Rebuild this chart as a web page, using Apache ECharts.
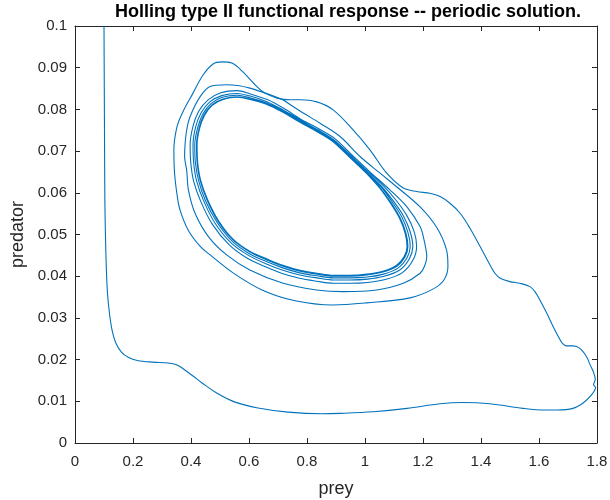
<!DOCTYPE html>
<html lang="en">
<head>
    <meta charset="UTF-8">
    <title>Holling type II</title>
    <script src="https://cdn.jsdelivr.net/npm/echarts@6.0.0/dist/echarts.min.js"></script>
    <style>
        body { margin: 0; background: #fff; }
    </style>
</head>
<body>
    <div id="main" style="width: 610px;height:500px;"></div>
    <script type="text/javascript">
        // tick values of both axes
        const xTicks = [0, 0.2, 0.4, 0.6, 0.8, 1, 1.2, 1.4, 1.6, 1.8];
        const yTicks = [0, 0.01, 0.02, 0.03, 0.04, 0.05, 0.06, 0.07, 0.08, 0.09, 0.1];

        // [prey, predator], in time order
        // start at (0.1, 0.1), down, along the bottom, up the right side, over the peak, first big loop
        const approachPath = [
            [0.100, 0.1000], [0.101, 0.0850], [0.102, 0.0700], [0.103, 0.0580], [0.105, 0.0500],
            [0.108, 0.0420], [0.112, 0.0360], [0.119, 0.0310], [0.128, 0.0270], [0.140, 0.0241],
            [0.160, 0.0218], [0.185, 0.0205], [0.215, 0.0198], [0.266, 0.0194], [0.320, 0.0192],
            [0.345, 0.0189], [0.360, 0.0184], [0.379, 0.0175], [0.408, 0.0160], [0.438, 0.0144],
            [0.493, 0.0118], [0.552, 0.0098], [0.631, 0.0084], [0.734, 0.0074], [0.852, 0.0070],
            [0.914, 0.0071], [1.028, 0.0075], [1.145, 0.0083], [1.259, 0.0094], [1.338, 0.0097],
            [1.431, 0.0094], [1.545, 0.0083], [1.620, 0.0079], [1.662, 0.0079], [1.717, 0.0083],
            [1.752, 0.0096], [1.778, 0.0113], [1.795, 0.0133], [1.788, 0.0140], [1.794, 0.0152],
            [1.788, 0.0170], [1.776, 0.0188], [1.764, 0.0207], [1.741, 0.0227], [1.718, 0.0233],
            [1.695, 0.0233], [1.681, 0.0239], [1.667, 0.0255], [1.649, 0.0279], [1.627, 0.0311],
            [1.603, 0.0343], [1.586, 0.0363], [1.569, 0.0375], [1.534, 0.0383], [1.500, 0.0387],
            [1.466, 0.0395], [1.448, 0.0407], [1.431, 0.0427], [1.397, 0.0471], [1.362, 0.0515],
            [1.328, 0.0551], [1.293, 0.0575], [1.259, 0.0591], [1.224, 0.0599], [1.178, 0.0603],
            [1.131, 0.0612], [1.075, 0.0647], [1.017, 0.0703], [0.959, 0.0751], [0.890, 0.0799],
            [0.834, 0.0818], [0.776, 0.0823], [0.741, 0.0823], [0.697, 0.0827], [0.655, 0.0839],
            [0.628, 0.0854], [0.579, 0.0890], [0.541, 0.0911], [0.507, 0.0914], [0.476, 0.0909],
            [0.441, 0.0882], [0.407, 0.0839], [0.372, 0.0794], [0.352, 0.0759], [0.341, 0.0703],
            [0.343, 0.0650], [0.352, 0.0595], [0.362, 0.0559], [0.390, 0.0511], [0.431, 0.0472],
            [0.466, 0.0451], [0.545, 0.0408], [0.645, 0.0367], [0.759, 0.0341], [0.890, 0.0331],
            [1.006, 0.0336], [1.155, 0.0348], [1.234, 0.0369], [1.272, 0.0391], [1.286, 0.0424],
            [1.281, 0.0463], [1.248, 0.0516], [1.190, 0.0566], [1.110, 0.0614], [1.052, 0.0647],
            [0.983, 0.0687], [0.914, 0.0735], [0.845, 0.0767], [0.776, 0.0796], [0.717, 0.0823]
        ];

        // inner spiral, one loop after the other, closing in on the periodic orbit
        const loopB = [
            [0.717, 0.0823],
            [0.603, 0.0851], [0.523, 0.0859], [0.466, 0.0855], [0.431, 0.0830], [0.397, 0.0783],
            [0.385, 0.0750], [0.379, 0.0711], [0.378, 0.0685], [0.385, 0.0655], [0.391, 0.0607],
            [0.414, 0.0551], [0.460, 0.0495], [0.523, 0.0451], [0.603, 0.0415], [0.718, 0.0383],
            [0.833, 0.0367], [0.925, 0.0363], [1.040, 0.0367], [1.132, 0.0383], [1.190, 0.0407],
            [1.206, 0.0425], [1.213, 0.0447], [1.201, 0.0495], [1.190, 0.0519], [1.144, 0.0567],
            [1.086, 0.0607]
        ];

        const loopC = [
            [1.014, 0.0652], [0.955, 0.0691], [0.896, 0.0730], [0.839, 0.0754], [0.780, 0.0776],
            [0.721, 0.0802], [0.665, 0.0823], [0.605, 0.0837], [0.559, 0.0845], [0.503, 0.0840],
            [0.459, 0.0823], [0.427, 0.0796], [0.407, 0.0760], [0.397, 0.0715], [0.399, 0.0674],
            [0.409, 0.0628], [0.435, 0.0577], [0.475, 0.0523], [0.532, 0.0475], [0.594, 0.0443],
            [0.655, 0.0423], [0.712, 0.0407], [0.774, 0.0395], [0.834, 0.0388], [0.890, 0.0383],
            [0.948, 0.0383], [1.010, 0.0385], [1.070, 0.0392], [1.128, 0.0408], [1.165, 0.0438],
            [1.178, 0.0472], [1.169, 0.0508], [1.143, 0.0547], [1.105, 0.0584], [1.062, 0.0618]
        ];

        const loopD = [
            [1.011, 0.0650], [0.952, 0.0689], [0.893, 0.0727], [0.837, 0.0751], [0.778, 0.0774],
            [0.719, 0.0798], [0.664, 0.0818], [0.604, 0.0832], [0.559, 0.0838], [0.506, 0.0833],
            [0.465, 0.0818], [0.435, 0.0792], [0.416, 0.0758], [0.407, 0.0715], [0.409, 0.0674],
            [0.419, 0.0629], [0.444, 0.0580], [0.483, 0.0527], [0.538, 0.0480], [0.598, 0.0450],
            [0.658, 0.0430], [0.714, 0.0415], [0.775, 0.0403], [0.834, 0.0396], [0.890, 0.0391],
            [0.948, 0.0391], [1.009, 0.0393], [1.066, 0.0400], [1.120, 0.0415], [1.153, 0.0442],
            [1.165, 0.0472], [1.156, 0.0506], [1.133, 0.0544], [1.098, 0.0580], [1.058, 0.0615]
        ];

        const loopE = [
            [1.009, 0.0648], [0.950, 0.0687], [0.892, 0.0725], [0.835, 0.0750], [0.777, 0.0772],
            [0.718, 0.0796], [0.663, 0.0815], [0.603, 0.0828], [0.559, 0.0834], [0.508, 0.0829],
            [0.469, 0.0814], [0.441, 0.0789], [0.423, 0.0756], [0.413, 0.0715], [0.415, 0.0674],
            [0.426, 0.0630], [0.450, 0.0581], [0.489, 0.0530], [0.542, 0.0484], [0.601, 0.0454],
            [0.660, 0.0435], [0.716, 0.0420], [0.775, 0.0408], [0.834, 0.0401], [0.890, 0.0396],
            [0.948, 0.0396], [1.008, 0.0398], [1.064, 0.0405], [1.115, 0.0420], [1.145, 0.0444],
            [1.156, 0.0472], [1.148, 0.0505], [1.127, 0.0542], [1.094, 0.0578], [1.055, 0.0614]
        ];

        const limitCycle = [
            [1.007, 0.0647], [0.948, 0.0686], [0.890, 0.0724], [0.834, 0.0748], [0.776, 0.0770],
            [0.717, 0.0794], [0.662, 0.0813], [0.603, 0.0825], [0.559, 0.0830], [0.510, 0.0825],
            [0.472, 0.0811], [0.445, 0.0787], [0.428, 0.0755], [0.419, 0.0715], [0.421, 0.0674],
            [0.431, 0.0631], [0.455, 0.0583], [0.493, 0.0532], [0.545, 0.0487], [0.603, 0.0458],
            [0.662, 0.0439], [0.717, 0.0424], [0.776, 0.0412], [0.834, 0.0405], [0.890, 0.0400],
            [0.948, 0.0400], [1.007, 0.0403], [1.062, 0.0410], [1.110, 0.0424], [1.138, 0.0446],
            [1.148, 0.0472], [1.141, 0.0504], [1.121, 0.0540], [1.090, 0.0576], [1.052, 0.0612]
        ];

        const limitCycle2 = [
            [1.006, 0.0646], [0.947, 0.0685], [0.889, 0.0723], [0.833, 0.0747], [0.776, 0.0769],
            [0.717, 0.0793], [0.662, 0.0812], [0.603, 0.0824], [0.559, 0.0829], [0.511, 0.0824],
            [0.473, 0.0810], [0.447, 0.0786], [0.430, 0.0755], [0.421, 0.0715], [0.423, 0.0674],
            [0.433, 0.0631], [0.457, 0.0584], [0.495, 0.0533], [0.546, 0.0488], [0.604, 0.0459],
            [0.663, 0.0441], [0.717, 0.0426], [0.776, 0.0414], [0.834, 0.0407], [0.890, 0.0402],
            [0.948, 0.0402], [1.007, 0.0405], [1.061, 0.0412], [1.108, 0.0426], [1.135, 0.0447],
            [1.145, 0.0472], [1.138, 0.0504], [1.119, 0.0539], [1.088, 0.0575], [1.051, 0.0611],
            [1.006, 0.0646]
        ];

        const spiral = [].concat(loopB, loopC, loopD, loopE, limitCycle, limitCycle2);

        const axisColor = '#262626';
        const lineColor = '#0072BD';
        const font = 'Liberation Sans, Arial, Helvetica, sans-serif';

        function boxAxis(extra) {
            // matlab style box: ticks pointing in, no grid
            return Object.assign({
                type: 'value',
                axisLine: { show: true, onZero: false, lineStyle: { color: axisColor, width: 1 } },
                axisTick: { show: true, inside: true, length: 5, lineStyle: { color: axisColor } },
                splitLine: { show: false },
                axisLabel: { show: false }
            }, extra);
        }

        let myChart = echarts.init(document.getElementById('main'));

        let options = {
            animation: false,
            backgroundColor: '#fff',
            // fixed plot box, no auto shrinking for the labels
            grid: { left: 75, right: 13, top: 26, bottom: 57, containLabel: false, outerBoundsMode: 'none' },
            graphic: [{
                type: 'text',
                x: 348, y: 12,
                style: {
                    text: 'Holling type II functional response -- periodic solution.',
                    font: 'bold 18px ' + font,
                    fill: '#000',
                    align: 'center',
                    verticalAlign: 'middle'
                }
            }],
            xAxis: [
                boxAxis({
                    position: 'bottom',
                    min: xTicks[0], max: xTicks[xTicks.length - 1], interval: 0.2,
                    name: 'prey', nameLocation: 'middle', nameGap: 37,
                    nameTextStyle: { fontFamily: font, fontSize: 18, color: axisColor },
                    axisLabel: { show: true, margin: 11, fontFamily: font, fontSize: 15, color: axisColor }
                }),
                boxAxis({
                    position: 'top',
                    min: xTicks[0], max: xTicks[xTicks.length - 1], interval: 0.2
                })
            ],
            yAxis: [
                boxAxis({
                    position: 'left',
                    min: yTicks[0], max: yTicks[yTicks.length - 1], interval: 0.01,
                    name: 'predator', nameLocation: 'middle', nameGap: 48,
                    nameTextStyle: { fontFamily: font, fontSize: 18, color: axisColor },
                    axisLabel: { show: true, margin: 8, fontFamily: font, fontSize: 15, color: axisColor }
                }),
                boxAxis({
                    position: 'right',
                    min: yTicks[0], max: yTicks[yTicks.length - 1], interval: 0.01
                })
            ],
            series: [{
                name: 'approach',
                type: 'line',
                data: approachPath,
                showSymbol: false,
                smooth: 0.35,
                lineStyle: { color: lineColor, width: 1.1 }
            }, {
                name: 'spiral',
                type: 'line',
                data: spiral,
                showSymbol: false,
                smooth: 0.3,
                lineStyle: { color: lineColor, width: 1.1 }
            }]
        };

        myChart.setOption(options);
    </script>
</body>
</html>
